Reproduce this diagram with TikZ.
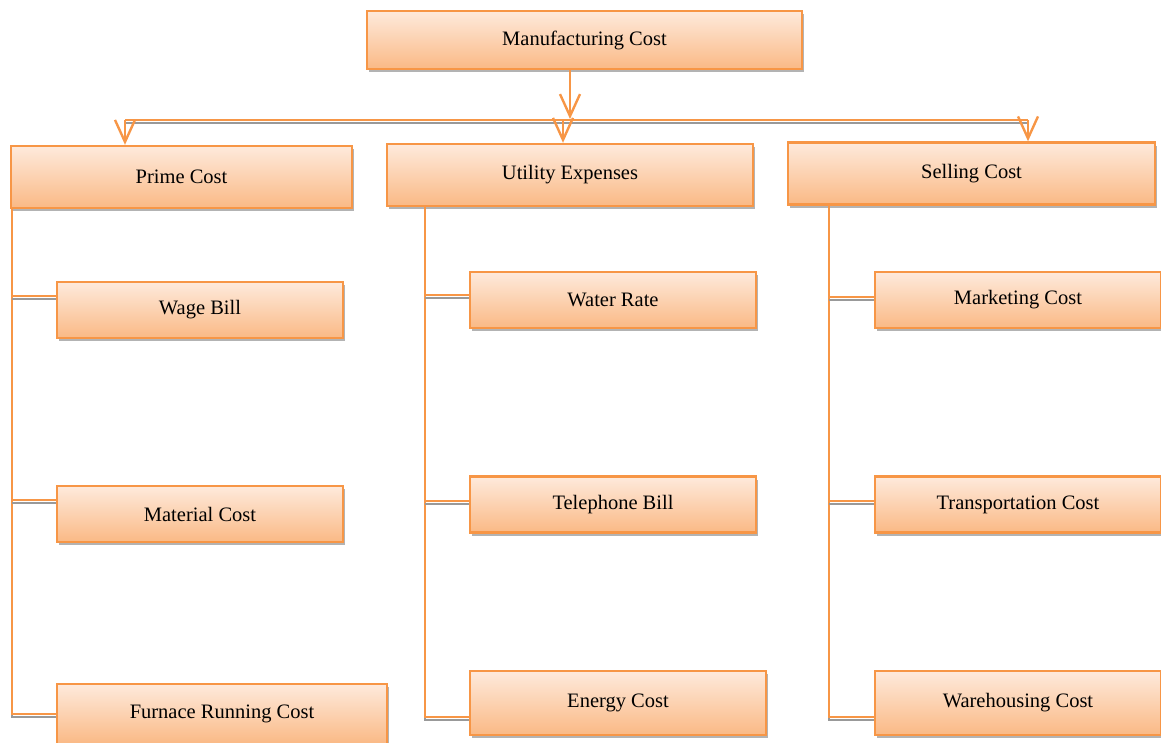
\documentclass[tikz,border=0pt]{standalone}
\usepackage{fontspec}
\setmainfont{Liberation Serif}
\usetikzlibrary{arrows.meta,shadows}
\definecolor{costline}{HTML}{F79646}
\definecolor{costtop}{HTML}{FEEADC}
\definecolor{costbot}{HTML}{FAB985}
\begin{document}
\begin{tikzpicture}[x=1pt, y=-1pt,
  cost/.style={draw=costline, line width=2.4pt, top color=costtop, bottom color=costbot,
    inner sep=0pt, font=\fontsize{20.5}{24}\selectfont,
    drop shadow={shadow xshift=1.5pt, shadow yshift=-3pt, fill=black!50, opacity=0.6}},
  link/.style={draw=costline, line width=2.2pt,
    preaction={draw=black!40, line width=2pt, transform canvas={yshift=-3pt}}},
  arrow/.style={draw=costline, line width=2.4pt, -{Straight Barb[length=22pt, width=20pt]}}]
  \useasboundingbox (0,0) rectangle (1161,742);
  \node[cost, minimum width=435pt, minimum height=58pt] (mfg) at (584.5,40) {Manufacturing Cost};
  \node[cost, minimum width=341pt, minimum height=62pt] (prime) at (181.5,177) {Prime Cost};
  \node[cost, minimum width=366pt, minimum height=62pt] (util) at (570,175) {Utility Expenses};
  \node[cost, minimum width=367pt, minimum height=62pt] (sell) at (971.5,173.5) {Selling Cost};
  \node[cost, minimum width=286pt, minimum height=56pt] (wage) at (200,310) {Wage Bill};
  \node[cost, minimum width=286pt, minimum height=56pt] (material) at (200,514) {Material Cost};
  \node[cost, minimum width=330pt, minimum height=60pt] (furnace) at (222,714) {Furnace Running Cost};
  \node[cost, minimum width=286pt, minimum height=56pt] (water) at (613,300) {Water Rate};
  \node[cost, minimum width=286pt, minimum height=56pt] (phone) at (613,504.5) {Telephone Bill};
  \node[cost, minimum width=296pt, minimum height=64pt] (energy) at (618,703) {Energy Cost};
  \node[cost, minimum width=286pt, minimum height=56pt] (market) at (1018,300) {Marketing Cost};
  \node[cost, minimum width=286pt, minimum height=56pt] (transport) at (1018,504.5) {Transportation Cost};
  \node[cost, minimum width=286pt, minimum height=64pt] (warehouse) at (1018,703) {Warehousing Cost};
  % bus under the top box
  \coordinate (drop) at (570,119);
  \coordinate (busl) at (125,120);
  \coordinate (busm) at (563,120);
  \coordinate (busr) at (1028,120);
  \draw[link] (busl) -- (busr);
  \draw[arrow] (mfg.south -| drop) -- (drop);
  \draw[arrow] (busl) -- (busl |- prime.north);
  \draw[arrow] (busm) -- (busm |- util.north);
  \draw[arrow] (busr) -- (busr |- sell.north);
  % prime cost
  \coordinate (pend) at (12,714);
  \coordinate (p1) at (12,296);
  \coordinate (p2) at (12,500);
  \draw[link] (prime.south -| pend) -- (pend) -- (pend -| furnace.west);
  \draw[link] (p1) -- (p1 -| wage.west);
  \draw[link] (p2) -- (p2 -| material.west);
  % utility expenses
  \coordinate (uend) at (425,717);
  \coordinate (u1) at (425,295);
  \coordinate (u2) at (425,501);
  \draw[link] (util.south -| uend) -- (uend) -- (uend -| energy.west);
  \draw[link] (u1) -- (u1 -| water.west);
  \draw[link] (u2) -- (u2 -| phone.west);
  % selling cost
  \coordinate (send) at (829,717);
  \coordinate (s1) at (829,297);
  \coordinate (s2) at (829,501);
  \draw[link] (sell.south -| send) -- (send) -- (send -| warehouse.west);
  \draw[link] (s1) -- (s1 -| market.west);
  \draw[link] (s2) -- (s2 -| transport.west);
\end{tikzpicture}
\end{document}
